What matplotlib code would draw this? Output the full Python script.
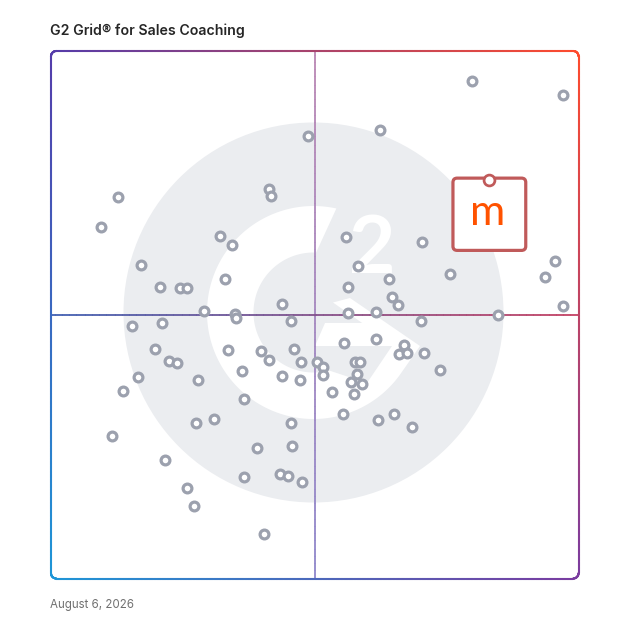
import numpy as np
import matplotlib
matplotlib.use("Agg")
import matplotlib.pyplot as plt
from matplotlib.collections import LineCollection
from matplotlib.patches import Circle, Polygon, FancyBboxPatch

# ---------------- data ----------------
title = "G2 Grid® for Sales Coaching"
date_text = "August 6, 2026"

market_presence = [
    79.8, 97.0, 62.3, 48.8, 41.3, 41.8, 12.7, 9.5, 32.0, 34.4,
    55.9, 70.4, 17.0, 58.2, 95.6, 75.6, 93.6, 33.0, 64.1, 20.6,
    24.4, 25.8, 56.3, 64.7, 65.8, 43.7, 29.0, 34.9, 35.0, 56.3,
    61.6, 97.0, 84.8, 15.3, 21.0, 45.5, 70.2, 19.8, 22.3, 23.8,
    33.5, 39.8, 41.3, 46.1, 47.3, 50.5, 51.5, 51.6, 16.4, 13.7,
    27.8, 36.3, 43.8, 47.2, 36.6, 27.4, 30.9, 45.5, 11.6, 39.0,
    45.7, 21.6, 36.5, 43.4, 44.9, 47.5, 25.7, 27.1, 40.3, 55.6,
    61.6, 67.0, 66.0, 67.5, 70.7, 73.7, 57.6, 58.5, 58.1, 56.8,
    59.0, 57.4, 53.3, 55.4, 61.9, 65.0, 68.4,
]
satisfaction = [
    94.3, 91.6, 85.1, 83.8, 73.9, 72.5, 72.3, 66.7, 65.0, 63.2,
    64.8, 63.8, 59.5, 59.3, 60.2, 57.7, 57.2, 56.7, 56.7, 55.3,
    55.1, 55.0, 55.3, 53.3, 51.9, 52.0, 50.8, 50.2, 49.3, 50.3,
    50.5, 51.6, 50.0, 47.9, 48.5, 48.8, 48.8, 43.5, 41.2, 40.9,
    43.4, 43.2, 41.4, 43.5, 41.0, 41.0, 40.1, 38.6, 38.2, 35.5,
    37.6, 39.3, 38.4, 37.6, 34.0, 29.4, 30.2, 29.4, 27.1, 24.8,
    25.1, 22.4, 19.2, 19.9, 19.4, 18.3, 17.2, 13.7, 8.5, 44.7,
    45.4, 44.3, 42.6, 42.8, 42.8, 39.5, 41.0, 41.0, 38.7, 37.2,
    36.8, 35.0, 35.4, 31.1, 30.0, 31.1, 28.8,
]
highlight_x = 83.1
highlight_y = 75.5
highlight_label = "m"

# ---------------- figure ----------------
FIG = 628
PX = 5.275  # pixels per data unit
fig = plt.figure(figsize=(FIG / 100, FIG / 100), dpi=100)
fig.patch.set_facecolor("white")
ax = fig.add_axes([51 / FIG, (FIG - 578.5) / FIG, 527.5 / FIG, 527.5 / FIG])
ax.set_xlim(0, 100)
ax.set_ylim(0, 100)
ax.axis("off")

# ---------------- G2 watermark ----------------
cx, cy = (313.5 - 51) / PX, (578.5 - 312.5) / PX
def L(dx, dy):
    return (cx + dx / PX, cy - dy / PX)

logo_gray = "#ebedf0"
ax.add_patch(Circle((cx, cy), 190 / PX, color=logo_gray, lw=0, zorder=0))

ro, ri = 106.5, 60.0
pts = []
for a in np.linspace(77.6, 325, 240):
    r = np.radians(a)
    pts.append(L(ro * np.cos(r), -ro * np.sin(r)))
for dx, dy in [(106.5, 33.5), (36.5, -14.5), (19.5, -10.0), (48.7, 10.5),
               (11.5, 10.5), (1.5, 33.5), (78.5, 33.5), (53.5, 70.5)]:
    pts.append(L(dx, dy))
for a in np.linspace(285, 87.5, 240):
    r = np.radians(a)
    pts.append(L(ri * np.cos(r), -ri * np.sin(r)))
ax.add_patch(Polygon(pts, closed=True, fc="white", ec="none", zorder=0.5))
tx, ty = L(58.5, -39.5)
ax.text(tx, ty, "2", ha="center", va="baseline", fontsize=58,
        fontweight="bold", family="Lato", color="white", zorder=0.6)

# ---------------- gradient helpers ----------------
TL = np.array([85, 60, 170]) / 255
TR = np.array([255, 75, 45]) / 255
BL = np.array([30, 150, 215]) / 255
BR = np.array([122, 60, 160]) / 255

def bilinear(x, y):
    u, v = x / 100.0, y / 100.0
    return (1 - u) * (1 - v) * BL + u * (1 - v) * BR + (1 - u) * v * TL + u * v * TR

def grad_line(xs, ys, colors, lw, z):
    p = np.column_stack([xs, ys])
    segs = np.stack([p[:-1], p[1:]], axis=1)
    lc = LineCollection(segs, colors=colors, linewidths=lw, capstyle="round",
                        zorder=z, clip_on=False)
    ax.add_collection(lc)

# midlines
n = 300
t = np.linspace(0, 1, n)
v_top = np.array([185, 132, 178]) / 255
v_bot = np.array([140, 132, 202]) / 255
ys = np.linspace(100, 0, n)
cols = [tuple(v_top * (1 - s) + v_bot * s) for s in t[:-1]]
grad_line(np.full(n, 50.0), ys, cols, 1.15, 1)
h_left = np.array([62, 94, 178]) / 255
h_right = np.array([196, 62, 96]) / 255
xs = np.linspace(0, 100, n)
cols = [tuple(h_left * (1 - s) + h_right * s) for s in t[:-1]]
grad_line(xs, np.full(n, 50.0), cols, 1.15, 1)

# rounded border
rc = 1.0
seg_pts = []
def arc(xc, yc, a0, a1):
    for a in np.linspace(a0, a1, 30):
        seg_pts.append((xc + rc * np.cos(np.radians(a)), yc + rc * np.sin(np.radians(a))))
def line(p0, p1):
    for s in np.linspace(0, 1, 200):
        seg_pts.append((p0[0] + (p1[0] - p0[0]) * s, p0[1] + (p1[1] - p0[1]) * s))
line((rc, 0), (100 - rc, 0))
arc(100 - rc, rc, -90, 0)
line((100, rc), (100, 100 - rc))
arc(100 - rc, 100 - rc, 0, 90)
line((100 - rc, 100), (rc, 100))
arc(rc, 100 - rc, 90, 180)
line((0, 100 - rc), (0, rc))
arc(rc, rc, 180, 270)
bp = np.array(seg_pts)
mids = (bp[:-1] + bp[1:]) / 2
cols = [tuple(np.clip(bilinear(x, y), 0, 1)) for x, y in mids]
grad_line(bp[:, 0], bp[:, 1], cols, 1.5, 2)

# ---------------- products ----------------
ax.scatter(market_presence, satisfaction, s=40, facecolors="white",
           edgecolors="#9ca1ae", linewidths=2.3, zorder=5, clip_on=False)

# highlighted product
box_col = "#c05a5a"
ax.add_patch(FancyBboxPatch((highlight_x - 6.9, highlight_y - 13.3), 13.8, 13.7,
                            boxstyle="round,pad=0,rounding_size=0.8",
                            fc="white", ec=box_col, lw=2.3, zorder=6))
ax.scatter([highlight_x], [highlight_y], s=61, facecolors="white",
           edgecolors=box_col, linewidths=1.95, zorder=7)
ax.text(highlight_x - 0.3, highlight_y - 8.5, highlight_label, ha="center",
        va="baseline", fontsize=31, family="Lato", color="#ff5200", zorder=8)

# ---------------- texts ----------------
fig.text(50 / FIG, 1 - 35 / FIG, title, ha="left", va="baseline", fontsize=10.2,
         fontweight="semibold", family="Inter", color="#262626")
fig.text(50 / FIG, 1 - 608.3 / FIG, date_text, ha="left", va="baseline",
         fontsize=8.3, family="Inter", color="#707070")

fig.savefig("out.png", dpi=100, facecolor="white")
